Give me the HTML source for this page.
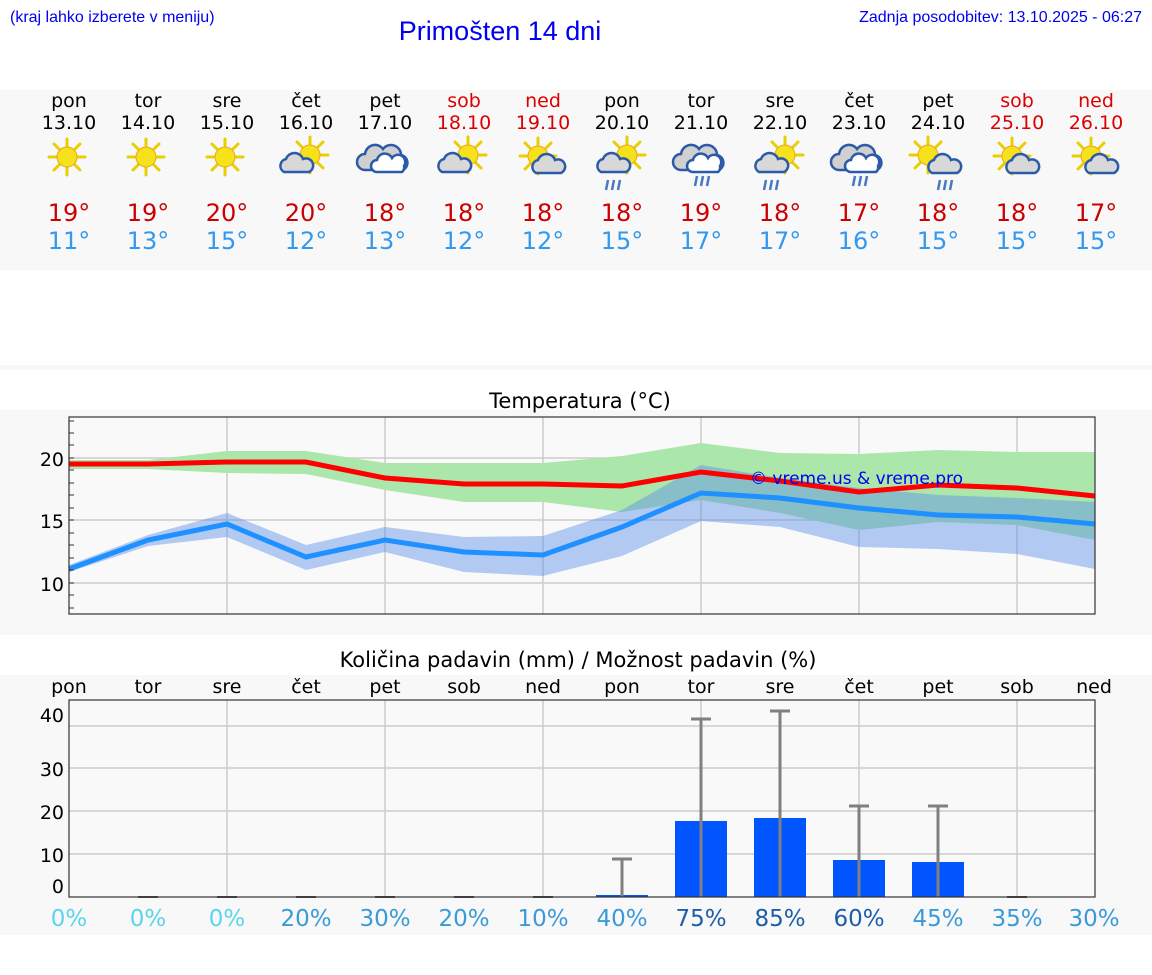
<!DOCTYPE html>
<html><head><meta charset="utf-8"><style>
body{margin:0;background:#fff}
svg{display:block}
.t{font-family:"DejaVu Sans","Liberation Sans",sans-serif}
.h{font-family:"Liberation Sans",sans-serif}
</style></head><body>
<svg width="1152" height="975" viewBox="0 0 1152 975" xmlns="http://www.w3.org/2000/svg">
<defs>
<g id="sun">
 <g stroke="#e8d000" stroke-width="3" stroke-linecap="round">
  <line x1="0" y1="-18" x2="0" y2="-11"/><line x1="0" y1="18" x2="0" y2="11"/>
  <line x1="-18" y1="0" x2="-11" y2="0"/><line x1="18" y1="0" x2="11" y2="0"/>
  <line x1="-13" y1="-13" x2="-8" y2="-8"/><line x1="13" y1="13" x2="8" y2="8"/>
  <line x1="-13" y1="13" x2="-8" y2="8"/><line x1="13" y1="-13" x2="8" y2="-8"/>
 </g>
 <circle r="10" fill="#f5e21a" stroke="#f0a020" stroke-width="1"/>
</g>
<g id="cs">
 <path d="M-14,8 a7,7 0 0 1 2,-13 a9,9 0 0 1 17,0 a7,7 0 0 1 6,13 z" fill="#d8d8d8" stroke="#2a5aa8" stroke-width="2.5"/>
</g>
<g id="cb">
 <path d="M-20,12 a8,8 0 0 1 0,-16 a10,10 0 0 1 18,-5 a10,10 0 0 1 18,6 a8,8 0 0 1 2,15 z" fill="#d0d0d0" stroke="#2a5aa8" stroke-width="2.5"/>
 <path d="M-8,14 a6,6 0 0 1 0,-12 a8,8 0 0 1 15,-2 a7,7 0 0 1 12,8 a6,6 0 0 1 -2,6 z" fill="#fff" stroke="#2a5aa8" stroke-width="2.5"/>
</g>
<g id="rain" stroke="#4a78c0" stroke-width="2.5">
 <line x1="-6" y1="0" x2="-8" y2="10"/><line x1="0" y1="0" x2="-2" y2="10"/><line x1="6" y1="0" x2="4" y2="10"/>
</g>
</defs>

<text x="10" y="22" class="h" font-size="16" fill="#0000ee">(kraj lahko izberete v meniju)</text>
<text x="500" y="40" class="h" font-size="27" fill="#0000ee" text-anchor="middle">Primošten 14 dni</text>
<text x="1142" y="22" class="h" font-size="16" fill="#0000ee" text-anchor="end">Zadnja posodobitev: 13.10.2025 - 06:27</text>

<rect x="0" y="90" width="1152" height="180" fill="#f8f8f8"/>
<rect x="0" y="365" width="1152" height="5" fill="#f8f8f8"/>
<rect x="0" y="410" width="1152" height="225" fill="#f8f8f8"/>
<rect x="0" y="675" width="1152" height="260" fill="#f8f8f8"/>

<g class="t" font-size="19" text-anchor="middle">
 <g fill="#000">
  <text x="69" y="107">pon</text><text x="148" y="107">tor</text><text x="227" y="107">sre</text><text x="306" y="107">čet</text><text x="385" y="107">pet</text>
  <text x="622" y="107">pon</text><text x="701" y="107">tor</text><text x="780" y="107">sre</text><text x="859" y="107">čet</text><text x="938" y="107">pet</text>
  <text x="69" y="129">13.10</text><text x="148" y="129">14.10</text><text x="227" y="129">15.10</text><text x="306" y="129">16.10</text><text x="385" y="129">17.10</text>
  <text x="622" y="129">20.10</text><text x="701" y="129">21.10</text><text x="780" y="129">22.10</text><text x="859" y="129">23.10</text><text x="938" y="129">24.10</text>
 </g>
 <g fill="#dd0000">
  <text x="464" y="107">sob</text><text x="543" y="107">ned</text><text x="1017" y="107">sob</text><text x="1096" y="107">ned</text>
  <text x="464" y="129">18.10</text><text x="543" y="129">19.10</text><text x="1017" y="129">25.10</text><text x="1096" y="129">26.10</text>
 </g>
</g>

<use href="#sun" x="67" y="157"/><use href="#sun" x="146" y="157"/><use href="#sun" x="225" y="157"/>
<use href="#sun" x="310" y="155"/><use href="#cs" x="298" y="164"/>
<use href="#cb" x="385" y="158"/>
<use href="#sun" x="468" y="155"/><use href="#cs" x="456" y="164"/>
<use href="#sun" x="538" y="156"/><use href="#cs" x="550" y="165"/>
<use href="#sun" x="627" y="155"/><use href="#cs" x="615" y="164"/><use href="#rain" x="614" y="180"/>
<use href="#cb" x="701" y="158"/><use href="#rain" x="703" y="176"/>
<use href="#sun" x="785" y="155"/><use href="#cs" x="773" y="164"/><use href="#rain" x="772" y="180"/>
<use href="#cb" x="859" y="158"/><use href="#rain" x="861" y="176"/>
<use href="#sun" x="928" y="155"/><use href="#cs" x="946" y="165"/><use href="#rain" x="946" y="180"/>
<use href="#sun" x="1012" y="156"/><use href="#cs" x="1024" y="165"/>
<use href="#sun" x="1091" y="156"/><use href="#cs" x="1103" y="165"/>

<g class="t" font-size="24" text-anchor="middle">
 <g fill="#cc0000">
  <text x="69" y="221">19°</text><text x="148" y="221">19°</text><text x="227" y="221">20°</text><text x="306" y="221">20°</text><text x="385" y="221">18°</text><text x="464" y="221">18°</text><text x="543" y="221">18°</text><text x="622" y="221">18°</text><text x="701" y="221">19°</text><text x="780" y="221">18°</text><text x="859" y="221">17°</text><text x="938" y="221">18°</text><text x="1017" y="221">18°</text><text x="1096" y="221">17°</text>
 </g>
 <g fill="#3399ee">
  <text x="69" y="249">11°</text><text x="148" y="249">13°</text><text x="227" y="249">15°</text><text x="306" y="249">12°</text><text x="385" y="249">13°</text><text x="464" y="249">12°</text><text x="543" y="249">12°</text><text x="622" y="249">15°</text><text x="701" y="249">17°</text><text x="780" y="249">17°</text><text x="859" y="249">16°</text><text x="938" y="249">15°</text><text x="1017" y="249">15°</text><text x="1096" y="249">15°</text>
 </g>
</g>

<!-- Temperature chart -->
<text x="580" y="408" class="t" font-size="21" text-anchor="middle">Temperatura (°C)</text>
<rect x="69" y="417" width="1026" height="197" fill="#f9f9f9"/>
<g stroke="#cccccc" stroke-width="1.5">
 <line x1="69" y1="458" x2="1095" y2="458"/><line x1="69" y1="520" x2="1095" y2="520"/><line x1="69" y1="583" x2="1095" y2="583"/>
 <line x1="227" y1="417" x2="227" y2="614"/><line x1="385" y1="417" x2="385" y2="614"/><line x1="543" y1="417" x2="543" y2="614"/><line x1="701" y1="417" x2="701" y2="614"/><line x1="859" y1="417" x2="859" y2="614"/><line x1="1017" y1="417" x2="1017" y2="614"/>
</g>
<polygon fill="#abe6ab" points="69,460 148,460 227,451 306,451 385,463 464,463 543,463 622,456 701,443 780,453 859,454 938,450 1017,452 1095,452 1095,540 1017,525 938,522 859,530 780,513 701,500 622,512 543,502 464,502 385,490 306,474 227,473 148,469 69,469"/>
<polygon fill="#5a8ee8" fill-opacity="0.45" points="69,565 148,535 227,513 306,545 385,527 464,537 543,536 622,510 701,465 780,478 859,488 938,495 1017,498 1095,502 1095,569 1017,554 938,549 859,547 780,527 701,521 622,556 543,576 464,572 385,552 306,570 227,537 148,546 69,572"/>
<polyline fill="none" stroke="#ff0000" stroke-width="5" points="69,464 148,464 227,462 306,462 385,478 464,484 543,484 622,486 701,472 780,481 859,492 938,485 1017,488 1095,496"/>
<polyline fill="none" stroke="#1e90ff" stroke-width="5" points="69,569 148,540 227,524 306,557 385,540 464,552 543,555 622,527 701,493 780,498 859,508 938,515 1017,517 1095,524"/>
<text x="750" y="484" class="t" font-size="17" fill="#0000ee">© vreme.us &amp; vreme.pro</text>
<rect x="69" y="417" width="1026" height="197" fill="none" stroke="#333" stroke-width="1.2"/>
<g stroke="#333" stroke-width="1">
 <line x1="69" y1="421" x2="74" y2="421"/><line x1="69" y1="433" x2="74" y2="433"/><line x1="69" y1="445" x2="74" y2="445"/><line x1="69" y1="458" x2="74" y2="458"/><line x1="69" y1="470" x2="74" y2="470"/><line x1="69" y1="483" x2="74" y2="483"/><line x1="69" y1="495" x2="74" y2="495"/><line x1="69" y1="508" x2="74" y2="508"/><line x1="69" y1="520" x2="74" y2="520"/><line x1="69" y1="533" x2="74" y2="533"/><line x1="69" y1="545" x2="74" y2="545"/><line x1="69" y1="558" x2="74" y2="558"/><line x1="69" y1="570" x2="74" y2="570"/><line x1="69" y1="583" x2="74" y2="583"/><line x1="69" y1="595" x2="74" y2="595"/><line x1="69" y1="608" x2="74" y2="608"/>
</g>
<g class="t" font-size="19" text-anchor="end" fill="#000">
 <text x="64" y="466">20</text><text x="64" y="528">15</text><text x="64" y="591">10</text>
</g>

<!-- Rain chart -->
<text x="578" y="667" class="t" font-size="21" text-anchor="middle">Količina padavin (mm) / Možnost padavin (%)</text>
<g class="t" font-size="19" text-anchor="middle" fill="#000">
 <text x="69" y="693">pon</text><text x="148" y="693">tor</text><text x="227" y="693">sre</text><text x="306" y="693">čet</text><text x="385" y="693">pet</text><text x="464" y="693">sob</text><text x="543" y="693">ned</text><text x="622" y="693">pon</text><text x="701" y="693">tor</text><text x="780" y="693">sre</text><text x="859" y="693">čet</text><text x="938" y="693">pet</text><text x="1017" y="693">sob</text><text x="1094" y="693">ned</text>
</g>
<rect x="69" y="700" width="1026" height="197" fill="#f9f9f9"/>
<g stroke="#cccccc" stroke-width="1.5">
 <line x1="69" y1="726" x2="1095" y2="726"/><line x1="69" y1="768" x2="1095" y2="768"/><line x1="69" y1="811" x2="1095" y2="811"/><line x1="69" y1="854" x2="1095" y2="854"/>
 <line x1="227" y1="700" x2="227" y2="897"/><line x1="385" y1="700" x2="385" y2="897"/><line x1="543" y1="700" x2="543" y2="897"/><line x1="701" y1="700" x2="701" y2="897"/><line x1="859" y1="700" x2="859" y2="897"/><line x1="1017" y1="700" x2="1017" y2="897"/>
</g>
<g fill="#0055ff">
 <rect x="596" y="895" width="52" height="2"/>
 <rect x="675" y="821" width="52" height="76"/>
 <rect x="754" y="818" width="52" height="79"/>
 <rect x="833" y="860" width="52" height="37"/>
 <rect x="912" y="862" width="52" height="35"/>
</g>
<g stroke="#808080" stroke-width="3">
 <line x1="622" y1="859" x2="622" y2="897"/><line x1="612" y1="859" x2="632" y2="859"/>
 <line x1="701" y1="719" x2="701" y2="897"/><line x1="691" y1="719" x2="711" y2="719"/>
 <line x1="780" y1="711" x2="780" y2="897"/><line x1="770" y1="711" x2="790" y2="711"/>
 <line x1="859" y1="806" x2="859" y2="897"/><line x1="849" y1="806" x2="869" y2="806"/>
 <line x1="938" y1="806" x2="938" y2="897"/><line x1="928" y1="806" x2="948" y2="806"/>
</g>
<g stroke="#555" stroke-width="2">
 <line x1="138" y1="897" x2="158" y2="897"/><line x1="217" y1="897" x2="237" y2="897"/><line x1="296" y1="897" x2="316" y2="897"/><line x1="375" y1="897" x2="395" y2="897"/><line x1="454" y1="897" x2="474" y2="897"/><line x1="533" y1="897" x2="553" y2="897"/><line x1="1007" y1="897" x2="1027" y2="897"/>
</g>
<rect x="69" y="700" width="1026" height="197" fill="none" stroke="#333" stroke-width="1.2"/>
<g class="t" font-size="19" text-anchor="end" fill="#000">
 <text x="64" y="722">40</text><text x="64" y="776">30</text><text x="64" y="819">20</text><text x="64" y="862">10</text><text x="64" y="893">0</text>
</g>
<g class="t" font-size="23" text-anchor="middle">
 <g fill="#5ad6ea"><text x="69" y="926">0%</text><text x="148" y="926">0%</text><text x="227" y="926">0%</text></g>
 <g fill="#3a9ad8"><text x="306" y="926">20%</text><text x="385" y="926">30%</text><text x="464" y="926">20%</text><text x="543" y="926">10%</text><text x="622" y="926">40%</text><text x="938" y="926">45%</text><text x="1017" y="926">35%</text><text x="1094" y="926">30%</text></g>
 <g fill="#1d5ea8"><text x="701" y="926">75%</text><text x="780" y="926">85%</text><text x="859" y="926">60%</text></g>
</g>
</svg>
</body></html>
